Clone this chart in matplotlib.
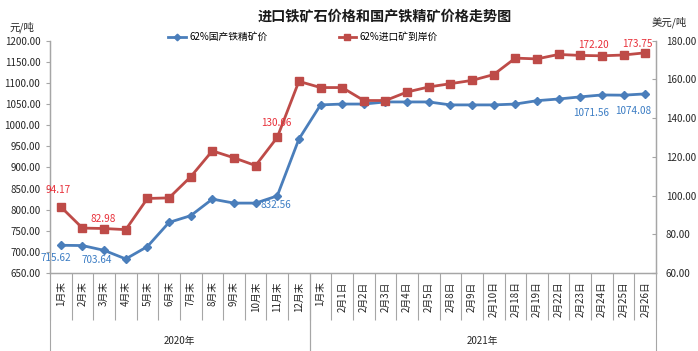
import numpy as np
import matplotlib
matplotlib.use("Agg")
import matplotlib.pyplot as plt
import matplotlib.transforms as mtransforms

plt.rcParams['font.family'] = ['Noto Sans CJK SC', 'DejaVu Sans']

# ---------------- data ----------------
categories = ["1月末", "2月末", "3月末", "4月末", "5月末", "6月末", "7月末", "8月末",
              "9月末", "10月末", "11月末", "12月末",
              "1月末", "2月1日", "2月2日", "2月3日", "2月4日", "2月5日", "2月8日",
              "2月9日", "2月10日", "2月18日", "2月19日", "2月22日", "2月23日",
              "2月24日", "2月25日", "2月26日"]
year_groups = ["2020年", "2021年"]
group_sizes = [12, 16]

domestic = [715.62, 715.0, 703.64, 683.3, 712.6, 769.8, 785.7, 825.0, 815.5, 815.5,
            832.56, 967.0, 1048.0, 1050.0, 1050.0, 1055.0, 1055.0, 1055.0, 1048.0,
            1048.0, 1048.0, 1050.0, 1058.0, 1062.0, 1067.0, 1071.56, 1071.0, 1074.08]
imported = [94.17, 83.2, 82.98, 82.4, 98.5, 98.8, 109.7, 123.1, 119.5, 115.5,
            130.06, 159.0, 155.8, 155.8, 149.1, 149.1, 153.5, 156.1, 157.8,
            159.5, 162.5, 171.0, 170.6, 172.9, 172.4, 172.20, 172.6, 173.75]

domestic_name = "62%国产铁精矿价"
imported_name = "62%进口矿到岸价"
title = "进口铁矿石价格和国产铁精矿价格走势图"

# labelled points: index -> offset in pixels (dx, dy)
domestic_labels = {0: (-5, -13), 2: (-7, -10), 10: (-1, -9), 25: (-11, -18), 27: (-12, -17)}
imported_labels = {0: (-3, 17), 2: (-1, 10), 10: (-1, 14), 25: (-8, 11), 27: (-8, 9)}

blue = "#4A7EBB"
red = "#BE4B48"
blue_txt = "#3C7DC4"
red_txt = "#E8303A"
grey = "#A6A6A6"

# ---------------- figure ----------------
fig = plt.figure(figsize=(6.98, 3.51), dpi=100)
ax = fig.add_axes([50 / 698, 1 - 273 / 351, (656 - 50) / 698, (273 - 40.7) / 351])
ax2 = ax.twinx()

x = np.arange(len(categories))
l1, = ax.plot(x, domestic, color=blue, lw=2, marker="D", ms=4.2, mfc=blue, mec=blue,
              label=domestic_name, zorder=3)
l2, = ax2.plot(x, imported, color=red, lw=2, marker="s", ms=6, mfc=red, mec=red,
               label=imported_name, zorder=3)

ax.set_xlim(-0.5, len(categories) - 0.5)
ax.set_ylim(650, 1200)
ax2.set_ylim(60, 180)
ax.set_yticks(np.arange(650, 1201, 50))
ax2.set_yticks(np.arange(60, 181, 20))
ax.set_yticklabels([f"{v:.2f}" for v in np.arange(650, 1201, 50)], fontsize=7)
ax2.set_yticklabels([f"{v:.2f}" for v in np.arange(60, 181, 20)], fontsize=7)

for a in (ax, ax2):
    a.spines["top"].set_visible(False)
    for s in ("left", "right", "bottom"):
        a.spines[s].set_color(grey)
        a.spines[s].set_linewidth(0.9)
ax.tick_params(axis="y", length=3, color=grey, pad=4, labelcolor="#262626")
ax2.tick_params(axis="y", length=3, direction="in", color=grey, pad=7, labelcolor="#262626")

ax.set_xticks(x)
ax.set_xticklabels(categories, rotation=90, fontsize=7, va="top", color="#262626")
ax.tick_params(axis="x", which="major", length=0, pad=6)
ax.set_xticks(np.arange(-0.5, len(categories), 1), minor=True)
ax.tick_params(axis="x", which="minor", length=34, color=grey, width=0.8)

# year group separators and labels
trans = mtransforms.blended_transform_factory(ax.transData, ax.transAxes)
start = -0.5
for name, n in zip(year_groups, group_sizes):
    for b in (start, start + n):
        ax.plot([b, b], [0, -0.34], transform=trans, color=grey, lw=0.8, clip_on=False)
    ax.text(start + n / 2, -0.294, name, transform=trans, ha="center", va="center",
            fontsize=7, color="#262626")
    start += n

# data labels
for i, (dx, dy) in domestic_labels.items():
    ax.annotate(f"{domestic[i]:.2f}", (x[i], domestic[i]), xytext=(dx * 0.72, dy * 0.72),
                textcoords="offset points", ha="center", va="center", fontsize=7.2,
                color=blue_txt, zorder=5)
for i, (dx, dy) in imported_labels.items():
    ax2.annotate(f"{imported[i]:.2f}", (x[i], imported[i]), xytext=(dx * 0.72, dy * 0.72),
                 textcoords="offset points", ha="center", va="center", fontsize=7.2,
                 color=red_txt, zorder=5)

# titles / units
fig.text(385 / 698, 1 - 17 / 351, title, ha="center", va="center", fontsize=10.2,
         fontweight="bold", color="#1a1a1a")
fig.text(22 / 698, 1 - 27 / 351, "元/吨", ha="center", va="center", fontsize=7.5,
         color="#262626")
fig.text(669 / 698, 1 - 22 / 351, "美元/吨", ha="center", va="center", fontsize=7.5,
         color="#262626")

# legend
fig.legend(handles=[l1, l2], loc="center left", bbox_to_anchor=(168 / 698, 1 - 37 / 351),
           ncol=2, frameon=False, fontsize=7, handlelength=1.8, handletextpad=0.4,
           columnspacing=7.3, borderpad=0, borderaxespad=0, markerscale=0.8)

fig.savefig("out.png", dpi=100)
